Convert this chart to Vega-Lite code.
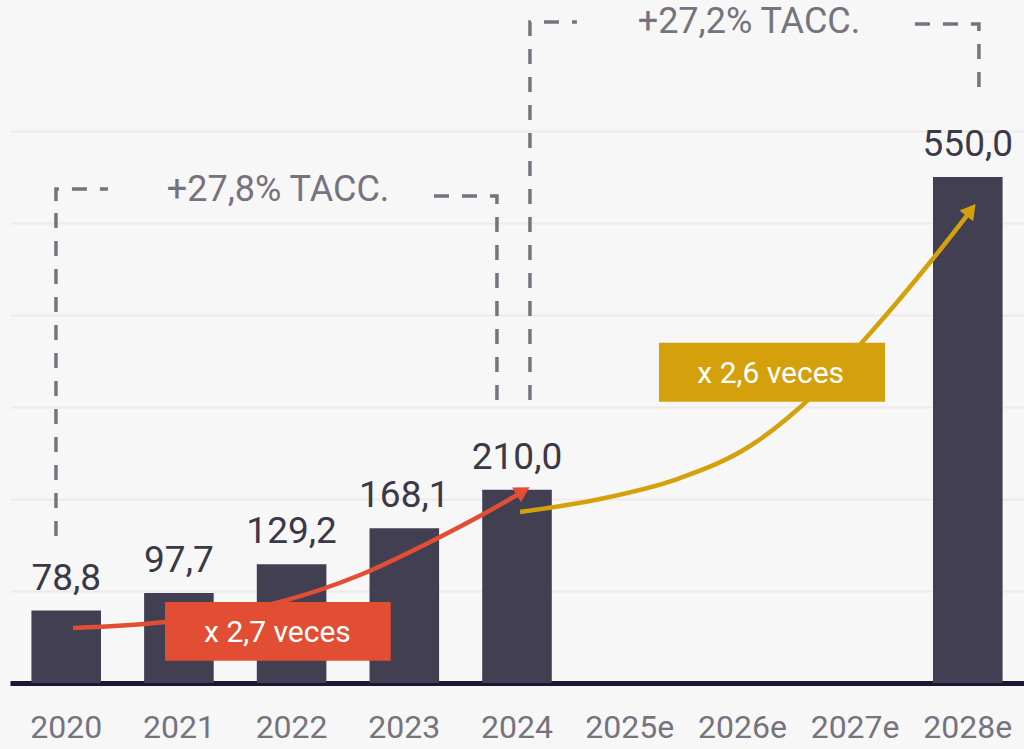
{
  "$schema": "https://vega.github.io/schema/vega-lite/v6.json",
  "width": 1014,
  "height": 683,
  "autosize": {"type": "none"},
  "padding": {"left": 10, "top": 0, "right": 0, "bottom": 66},
  "background": "#f7f7f7",
  "config": {"view": {"stroke": null}, "font": "Roboto"},
  "datasets": {
    "bars": [
      {"year": "2020", "value": 78.8, "label": "78,8"},
      {"year": "2021", "value": 97.7, "label": "97,7"},
      {"year": "2022", "value": 129.2, "label": "129,2"},
      {"year": "2023", "value": 168.1, "label": "168,1"},
      {"year": "2024", "value": 210.0, "label": "210,0"},
      {"year": "2028e", "value": 550.0, "label": "550,0"}
    ],
    "brackets": [
      {"seg": "a1", "ord": 1, "x": 0.408, "value": 523.9},
      {"seg": "a1", "ord": 2, "x": 0.408, "value": 537.0},
      {"seg": "a1", "ord": 3, "x": 0.870, "value": 537.0},
      {"seg": "a2", "ord": 1, "x": 0.408, "value": 510.9},
      {"seg": "a2", "ord": 2, "x": 0.408, "value": 158.7},
      {"seg": "b", "ord": 1, "x": 3.763, "value": 529.3},
      {"seg": "b", "ord": 2, "x": 4.322, "value": 529.3},
      {"seg": "b", "ord": 3, "x": 4.322, "value": 307.6},
      {"seg": "c1", "ord": 1, "x": 4.615, "value": 703.3},
      {"seg": "c1", "ord": 2, "x": 4.615, "value": 718.5},
      {"seg": "c1", "ord": 3, "x": 5.032, "value": 718.5},
      {"seg": "c2", "ord": 1, "x": 4.615, "value": 689.1},
      {"seg": "c2", "ord": 2, "x": 4.615, "value": 307.6},
      {"seg": "d", "ord": 1, "x": 8.032, "value": 716.3},
      {"seg": "d", "ord": 2, "x": 8.600, "value": 716.3},
      {"seg": "d", "ord": 3, "x": 8.600, "value": 646.7}
    ],
    "tacc": [
      {"x": 2.379, "value": 523.4, "text": "+27,8% TACC."},
      {"x": 6.559, "value": 706.5, "text": "+27,2% TACC."}
    ],
    "curves": [
      {"curve": "red", "ord": 1, "x": 0.559, "value": 59.8},
      {"curve": "red", "ord": 2, "x": 1.376, "value": 66.3},
      {"curve": "red", "ord": 3, "x": 2.396, "value": 88.0},
      {"curve": "red", "ord": 4, "x": 3.106, "value": 117.4},
      {"curve": "red", "ord": 5, "x": 3.816, "value": 158.7},
      {"curve": "red", "ord": 6, "x": 4.171, "value": 181.5},
      {"curve": "red", "ord": 7, "x": 4.562, "value": 208.7},
      {"curve": "gold", "ord": 1, "x": 4.527, "value": 185.9},
      {"curve": "gold", "ord": 2, "x": 5.236, "value": 200.0},
      {"curve": "gold", "ord": 3, "x": 5.947, "value": 222.8},
      {"curve": "gold", "ord": 4, "x": 6.568, "value": 257.6},
      {"curve": "gold", "ord": 5, "x": 6.985, "value": 296.7},
      {"curve": "gold", "ord": 6, "x": 7.660, "value": 383.7},
      {"curve": "gold", "ord": 7, "x": 8.183, "value": 459.8},
      {"curve": "gold", "ord": 8, "x": 8.538, "value": 515.2}
    ],
    "boxes": [
      {"curve": "red", "x": 1.376, "x2": 3.379, "value": 88.0, "value2": 24.2, "tx": 2.374, "ty": 44.9, "text": "x 2,7 veces"},
      {"curve": "gold", "x": 5.760, "x2": 7.766, "value": 369.9, "value2": 305.8, "tx": 6.752, "ty": 326.4, "text": "x 2,6 veces"}
    ],
    "headRed": [{"x": 4.553, "value": 208.7}],
    "headGold": [{"x": 8.529, "value": 514.1}]
  },
  "layer": [
    {
      "data": {"name": "bars"},
      "layer": [
        {
          "mark": {"type": "bar", "color": "#423f52"},
          "encoding": {
            "x": {
              "field": "year", "type": "nominal", "title": null,
              "scale": {"domain": ["2020","2021","2022","2023","2024","2025e","2026e","2027e","2028e"], "paddingInner": 0.3825, "paddingOuter": 0.19},
              "axis": {"labelAngle": 0, "ticks": false, "domainColor": "#1c1834", "domainWidth": 5, "labelFontSize": 32, "labelColor": "#76737f", "labelBaseline": "alphabetic", "labelPadding": 54, "labelFont": "Roboto"}
            },
            "y": {
              "field": "value", "type": "quantitative", "title": null,
              "scale": {"domain": [0, 742.4], "nice": false, "zero": true},
              "axis": {"values": [100, 200, 300, 400, 500, 600], "grid": true, "gridColor": "#f2e8eb", "gridWidth": 2, "labels": false, "ticks": false, "domain": false, "title": null}
            }
          }
        },
        {
          "mark": {"type": "text", "fontSize": 37, "color": "#3b3848", "baseline": "alphabetic", "dy": -21, "align": "center"},
          "encoding": {
            "x": {"field": "year", "type": "nominal", "title": null},
            "y": {"field": "value", "type": "quantitative", "title": null, "scale": {"domain": [0, 742.4], "nice": false}},
            "text": {"field": "label"}
          }
        }
      ]
    },
    {
      "layer": [
        {
          "data": {"name": "brackets"},
          "mark": {"type": "line", "color": "#76737f", "strokeWidth": 3.5, "strokeDash": [15, 13], "strokeCap": "butt"},
          "encoding": {
            "x": {"field": "x", "type": "quantitative", "scale": {"domain": [0, 9], "nice": false, "zero": false}, "axis": null},
            "y": {"field": "value", "type": "quantitative", "title": null, "scale": {"domain": [0, 742.4], "nice": false}},
            "detail": {"field": "seg"},
            "order": {"field": "ord"}
          }
        },
        {
          "data": {"name": "tacc"},
          "mark": {"type": "text", "fontSize": 36, "color": "#76737f", "baseline": "alphabetic", "align": "center"},
          "encoding": {
            "x": {"field": "x", "type": "quantitative", "scale": {"domain": [0, 9], "nice": false, "zero": false}, "axis": null},
            "y": {"field": "value", "type": "quantitative", "title": null, "scale": {"domain": [0, 742.4], "nice": false}},
            "text": {"field": "text"}
          }
        },
        {
          "data": {"name": "curves"},
          "mark": {"type": "line", "strokeWidth": 4.5, "interpolate": "monotone", "strokeCap": "butt"},
          "encoding": {
            "x": {"field": "x", "type": "quantitative", "scale": {"domain": [0, 9], "nice": false, "zero": false}, "axis": null},
            "y": {"field": "value", "type": "quantitative", "title": null, "scale": {"domain": [0, 742.4], "nice": false}},
            "color": {"field": "curve", "type": "nominal", "scale": {"domain": ["red", "gold"], "range": ["#e24e34", "#d4a10c"]}, "legend": null},
            "order": {"field": "ord"}
          }
        },
        {
          "data": {"name": "boxes"},
          "mark": {"type": "rect"},
          "encoding": {
            "x": {"field": "x", "type": "quantitative", "scale": {"domain": [0, 9], "nice": false, "zero": false}, "axis": null},
            "x2": {"field": "x2"},
            "y": {"field": "value", "type": "quantitative", "title": null, "scale": {"domain": [0, 742.4], "nice": false}},
            "y2": {"field": "value2"},
            "color": {"field": "curve", "type": "nominal", "scale": {"domain": ["red", "gold"], "range": ["#e24e34", "#d4a10c"]}, "legend": null}
          }
        },
        {
          "data": {"name": "boxes"},
          "mark": {"type": "text", "fontSize": 30, "color": "#ffffff", "baseline": "alphabetic", "align": "center"},
          "encoding": {
            "x": {"field": "tx", "type": "quantitative", "scale": {"domain": [0, 9], "nice": false, "zero": false}, "axis": null},
            "y": {"field": "ty", "type": "quantitative", "title": null, "scale": {"domain": [0, 742.4], "nice": false}},
            "text": {"field": "text"}
          }
        },
        {
          "data": {"name": "headRed"},
          "mark": {"type": "point", "shape": "triangle-up", "filled": true, "opacity": 1, "size": 300, "angle": 59, "color": "#e24e34"},
          "encoding": {
            "x": {"field": "x", "type": "quantitative", "scale": {"domain": [0, 9], "nice": false, "zero": false}, "axis": null},
            "y": {"field": "value", "type": "quantitative", "title": null, "scale": {"domain": [0, 742.4], "nice": false}}
          }
        },
        {
          "data": {"name": "headGold"},
          "mark": {"type": "point", "shape": "triangle-up", "filled": true, "opacity": 1, "size": 300, "angle": 38, "color": "#d4a10c"},
          "encoding": {
            "x": {"field": "x", "type": "quantitative", "scale": {"domain": [0, 9], "nice": false, "zero": false}, "axis": null},
            "y": {"field": "value", "type": "quantitative", "title": null, "scale": {"domain": [0, 742.4], "nice": false}}
          }
        }
      ]
    }
  ],
  "resolve": {"scale": {"x": "independent"}}
}
